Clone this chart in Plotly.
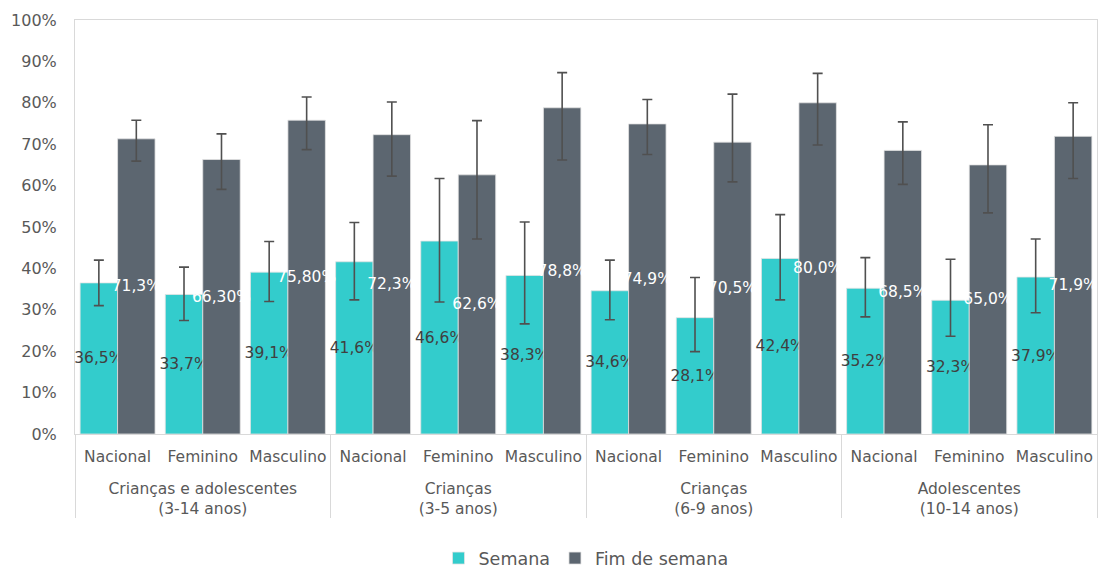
import plotly.graph_objects as go

grupos = ["Crianças e adolescentes<br>(3-14 anos)", "Crianças<br>(3-5 anos)",
          "Crianças<br>(6-9 anos)", "Adolescentes<br>(10-14 anos)"]
sexos = ["Nacional", "Feminino", "Masculino"]

semana = [36.5, 33.7, 39.1, 41.6, 46.6, 38.3, 34.6, 28.1, 42.4, 35.2, 32.3, 37.9]
semana_ic_sup = [42.0, 40.3, 46.5, 51.1, 61.7, 51.2, 42.0, 37.8, 53.0, 42.6, 42.2, 47.1]
semana_ic_inf = [31.0, 27.4, 32.0, 32.4, 31.9, 26.6, 27.6, 19.9, 32.4, 28.3, 23.6, 29.3]
semana_txt = ["36,5%", "33,7%", "39,1%", "41,6%", "46,6%", "38,3%",
              "34,6%", "28,1%", "42,4%", "35,2%", "32,3%", "37,9%"]

fim = [71.3, 66.3, 75.8, 72.3, 62.6, 78.8, 74.9, 70.5, 80.0, 68.5, 65.0, 71.9]
fim_ic_sup = [75.8, 72.5, 81.4, 80.2, 75.7, 87.3, 80.8, 82.1, 87.1, 75.4, 74.7, 80.0]
fim_ic_inf = [65.9, 59.1, 68.7, 62.3, 47.1, 66.2, 67.5, 60.9, 69.8, 60.3, 53.4, 61.7]
fim_txt = ["71,3%", "66,30%", "75,80%", "72,3%", "62,6%", "78,8%",
           "74,9%", "70,5%", "80,0%", "68,5%", "65,0%", "71,9%"]

# leading <br> pushes the group labels down a line, like the original
x = [["<br>" + g for g in grupos for _ in sexos], [s for _ in grupos for s in sexos]]
font = "DejaVu Sans"


def erro(v, sup, inf):
    return dict(type="data", symmetric=False,
                array=[s - a for a, s in zip(v, sup)],
                arrayminus=[a - i for a, i in zip(v, inf)],
                color="#505050", thickness=1.6, width=5)


fig = go.Figure()
fig.add_trace(go.Bar(x=x, y=semana, name="Semana", marker_color="#33CCCC",
                     marker_line=dict(color="#e3e3e3", width=0.8),
                     error_y=erro(semana, semana_ic_sup, semana_ic_inf),
                     text=semana_txt, textposition="inside", insidetextanchor="middle",
                     constraintext="none", textangle=0,
                     textfont=dict(family=font, size=15.5, color="#404040")))
fig.add_trace(go.Bar(x=x, y=fim, name="Fim de semana", marker_color="#5C6670",
                     marker_line=dict(color="#e3e3e3", width=0.8),
                     error_y=erro(fim, fim_ic_sup, fim_ic_inf),
                     text=fim_txt, textposition="inside", insidetextanchor="middle",
                     constraintext="none", textangle=0,
                     textfont=dict(family=font, size=15.5, color="white")))

fig.update_layout(
    width=1100, height=572, template="simple_white",
    barmode="group", bargap=0.12, bargroupgap=0,
    margin=dict(l=75, r=3, t=20, b=138, autoexpand=False),
    font=dict(family=font, size=16, color="#595959"),
    legend=dict(orientation="h", x=0.5, xanchor="center", y=-0.30, yanchor="middle",
                font=dict(size=17.5, color="#595959"), itemwidth=30, traceorder="normal"),
    plot_bgcolor="white", paper_bgcolor="white",
)
fig.update_yaxes(range=[0, 100], dtick=10, ticksuffix="%", showgrid=False,
                 showline=True, mirror=True, linecolor="#d9d9d9", ticks="",
                 ticklabelstandoff=14, tickfont=dict(size=16, color="#595959"))
fig.update_xaxes(showline=True, mirror=True, linecolor="#d9d9d9", ticks="",
                 tickangle=0, ticklabelstandoff=8,
                 showdividers=True, dividercolor="#d9d9d9", dividerwidth=1,
                 tickfont=dict(size=15.5, color="#595959"))

# the page body has an 8px default margin; drop it so the figure sits at 0,0
fig.write_html("out.html", config={"displayModeBar": False},
               post_script="document.body.style.margin='0';")
